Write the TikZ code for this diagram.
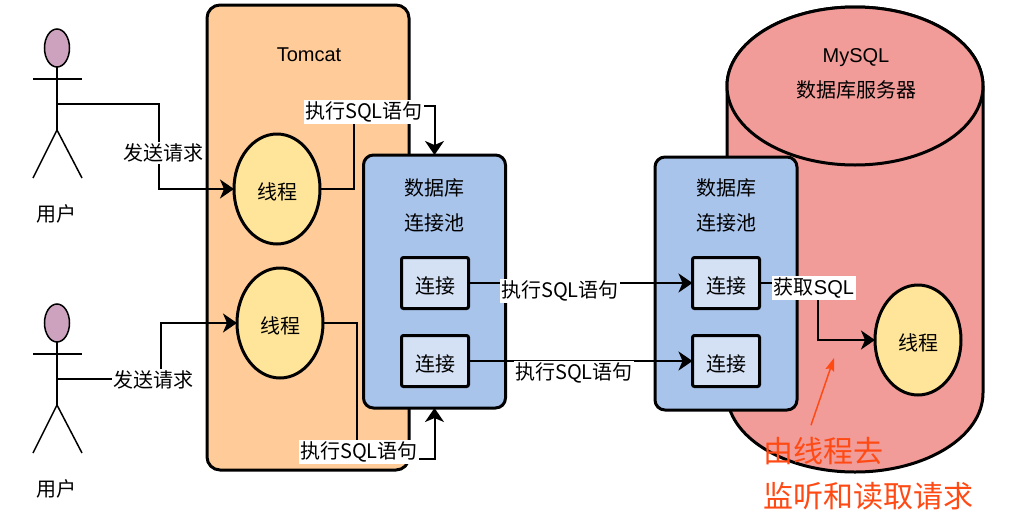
\documentclass[tikz,border=0pt]{standalone}
\usepackage{fontspec}
\setmainfont{Liberation Sans}
\newfontfamily\cjk{Noto Sans CJK SC}
\usepackage{xcolor}
\usetikzlibrary{shapes.geometric,arrows.meta,positioning,calc}
\definecolor{tomcatfill}{HTML}{FFCC99}
\definecolor{poolfill}{HTML}{A9C4EB}
\definecolor{connfill}{HTML}{D4E1F5}
\definecolor{threadfill}{HTML}{FFE599}
\definecolor{dbfill}{HTML}{F19C99}
\definecolor{headfill}{HTML}{CDA2BE}
\definecolor{notered}{HTML}{FF4A14}
\newcommand{\sqllabel}{{\cjk 执行}SQL{\cjk 语句}}

\begin{document}
\begin{tikzpicture}[x=1pt, y=-1pt,
    every node/.style={inner sep=0pt, outer sep=0pt, font=\fontsize{20}{35}\selectfont\cjk, align=center},
    tomcatbox/.style={rectangle, rounded corners=13pt, draw, line width=3pt, fill=tomcatfill, minimum width=202pt, minimum height=465pt},
    poolbox/.style={rectangle, rounded corners=10pt, draw, line width=3pt, fill=poolfill, minimum width=142pt, minimum height=253pt},
    connbox/.style={rectangle, rounded corners=2pt, draw, line width=3pt, fill=connfill, minimum width=67pt, minimum height=51pt, text height=20pt, text depth=0pt},
    threadnode/.style={ellipse, draw, line width=3pt, fill=threadfill, minimum width=86pt, minimum height=110pt, text height=20pt, text depth=0pt},
    headnode/.style={ellipse, draw, line width=1.5pt, fill=headfill, minimum width=25pt, minimum height=38pt},
    dbshape/.style={draw, line width=3pt, fill=dbfill},
    edgelabel/.style={fill=white, inner sep=1.5pt},
    arrow/.style={-{Stealth[length=14pt,width=19pt,inset=4pt]}, line width=2pt},
    stick/.style={line width=1.5pt}]
    \useasboundingbox (0,0) rectangle (1021,517);

    % database cylinder
    \draw[dbshape] (727,86) -- (727,393) arc[start angle=180, end angle=360, x radius=128pt, y radius=79pt]
        -- (983,86) arc[start angle=0, end angle=180, x radius=128pt, y radius=79pt] -- cycle;
    \draw[dbshape] (855,86) ellipse[x radius=128pt, y radius=79pt];
    \node (dbtitle) at (856,74) {{\rmfamily MySQL}\\数据库服务器};
    \node[tomcatbox] (tomcat) at (308,237.5) {};
    \node[font=\fontsize{20}{24}\selectfont\rmfamily] (tomcattitle) at (309,55) {Tomcat};

    \node[threadnode] (thr1) at (277,189) {线程};
    \node[threadnode] (thr2) at (280,323) {线程};
    \node[threadnode] (thr3) at (918,340) {线程};

    \node[poolbox] (pool1) at (434.5,281.5) {};
    \node[poolbox] (pool2) at (726,283.5) {};
    \node (pool1title) at (434,205) {数据库\\连接池};
    \node (pool2title) at (726,205) {数据库\\连接池};
    \node[connbox] (conn1a) at (435,283) {连接};
    \node[connbox, below=27pt of conn1a] (conn1b) {连接};
    \node[connbox] (conn2a) at (726,283) {连接};
    \node[connbox, below=27pt of conn2a] (conn2b) {连接};

    % two users
    \foreach \n/\dy in {1/0,2/275} {
        \node[headnode] (head\n) at (57,48+\dy) {};
        \coordinate (arml\n) at (33,79+\dy);
        \coordinate (armr\n) at (82,79+\dy);
        \coordinate (hand\n) at (57,104+\dy);
        \coordinate (hip\n) at (57,130+\dy);
        \coordinate (footl\n) at (33,178+\dy);
        \coordinate (footr\n) at (82,178+\dy);
        \draw[stick] (head\n) -- (hip\n);
        \draw[stick] (arml\n) -- (armr\n);
        \draw[stick] (footl\n) -- (hip\n) -- (footr\n);
        \node (user\n) at (56,214+\dy) {用户};
    }

    \draw[arrow] (hand1) -- ++(102,0) |- (thr1.west);
    \draw[arrow] (hand2) -- ++(104,0) |- (thr2.west);
    \draw[arrow] (thr1.east) -- ++(34,0) -- ++(0,-83) -| (pool1.north);
    \draw[arrow] (thr2.east) -- ++(34,0) -- ++(0,136) -| (pool1.south);
    \draw[arrow] (conn1a) -- (conn2a);
    \draw[arrow] (conn1b) -- (conn2b);
    \draw[arrow] (conn2a.east) -- ++(58,0) |- (thr3.west);

    \node[edgelabel] (send1) at (163,153) {发送请求};
    \node[edgelabel] (send2) at (153,380) {发送请求};
    \node[edgelabel] (exec1) at (364,112) {\sqllabel};
    \node[edgelabel] (exec2) at (359,452) {\sqllabel};
    \node[edgelabel] (exec3) at (560,291) {\sqllabel};
    \node[edgelabel] (exec4) at (574,373) {\sqllabel};
    \node[edgelabel] (fetch) at (814,288) {获取{\rmfamily SQL}};

    % red note
    \node[text=notered, font=\fontsize{30}{30}\selectfont\cjk, anchor=west] (note1) at (763,451) {由线程去};
    \node[text=notered, font=\fontsize{30}{30}\selectfont\cjk, anchor=west] (note2) at (763,496) {监听和读取请求};
    \coordinate (notetip) at (834,358);
    \draw[-{Stealth[length=13pt,width=9pt,inset=2pt]}, line width=1.5pt, draw=notered, color=notered] ([xshift=-12pt,yshift=12pt]note1.north) -- (notetip);
\end{tikzpicture}
\end{document}
